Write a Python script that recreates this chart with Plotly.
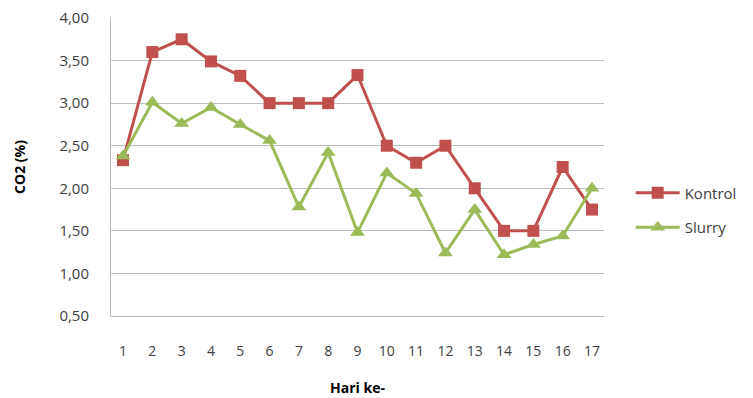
import plotly.graph_objects as go

days = [str(d) for d in range(1, 18)]
kontrol = [2.33, 3.60, 3.75, 3.49, 3.32, 3.00, 3.00, 3.00, 3.33, 2.50, 2.30, 2.50, 2.00, 1.50, 1.50, 2.25, 1.75]
slurry = [2.38, 3.01, 2.76, 2.95, 2.75, 2.56, 1.78, 2.42, 1.48, 2.18, 1.94, 1.24, 1.75, 1.22, 1.34, 1.44, 2.00]
y_ticks = [0.5, 1.0, 1.5, 2.0, 2.5, 3.0, 3.5, 4.0]

RED = "#C0504D"
GREEN = "#9BBB59"
FONT = "Open Sans, Liberation Sans, sans-serif"

fig = go.Figure()
fig.add_trace(go.Scatter(
    x=days, y=kontrol, name="Kontrol", mode="lines+markers",
    line=dict(color=RED, width=3),
    marker=dict(symbol="square", size=12, color=RED),
    legendgroup="a",
))
fig.add_trace(go.Scatter(
    x=days, y=slurry, name="Slurry", mode="lines+markers",
    line=dict(color=GREEN, width=3),
    marker=dict(symbol="triangle-up", size=13, color=GREEN),
    legendgroup="b",
))

fig.update_layout(
    width=753, height=398,
    margin=dict(l=111, r=148, t=18, b=82),
    paper_bgcolor="white", plot_bgcolor="white",
    separators=",.",
    font=dict(family=FONT, size=14, color="#404040"),
    showlegend=True,
    legend=dict(
        x=1.052, xanchor="left", y=0.356, yanchor="middle",
        font=dict(size=15, color="#404040"),
        tracegroupgap=12, itemwidth=44,
    ),
    xaxis=dict(
        type="category", automargin=False, range=[-0.41, 16.41],
        showgrid=False, showline=True, linecolor="#b8b8b8", linewidth=1,
        ticks="", ticklabelstandoff=22,
        tickfont=dict(size=14, color="#404040"),
        title=dict(text="<b>Hari ke-</b>", font=dict(size=14, color="#000000"), standoff=24),
    ),
    yaxis=dict(
        range=[0.5, 4.0], tickvals=y_ticks, tickformat=".2f", automargin=False,
        showgrid=True, gridcolor="#bdbdbd", gridwidth=1,
        showline=True, linecolor="#b8b8b8", linewidth=1,
        zeroline=False, ticks="", ticklabelstandoff=18,
        tickfont=dict(size=15, color="#404040"),
        title=dict(text="<b>CO2 (%)</b>", font=dict(size=14, color="#000000"), standoff=30),
    ),
)

fig.write_html("out.html")
